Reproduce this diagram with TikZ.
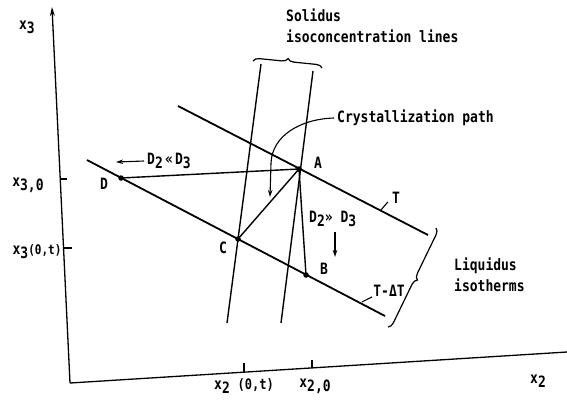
\documentclass[tikz,border=0pt]{standalone}
\usepackage{fontspec}
\setmainfont{DejaVu Sans Mono}
\usetikzlibrary{arrows.meta,decorations.pathreplacing}
\newcommand{\lowr}[1]{\raisebox{-0.45ex}{#1}}
\newcommand{\tall}[1]{\scalebox{1}[1.2]{#1}}
\begin{document}
\begin{tikzpicture}[x=1pt,y=-1pt,
  lbl/.style={font=\fontsize{13}{21}\selectfont\bfseries, inner sep=0pt},
  axisline/.style={line width=1.3pt},
  iso/.style={line width=1.8pt},
  sol/.style={line width=1.4pt},
  conn/.style={line width=1.4pt},
  thin/.style={line width=1.1pt},
  dot/.style={circle, fill=black, inner sep=0pt, minimum size=5.5pt},
  tip/.style={-{Stealth[length=7pt,width=4.5pt]}},
  brc/.style={line width=1.2pt, decorate, decoration={brace, amplitude=6pt}}]
\useasboundingbox (0,0) rectangle (567,408);
% axes
\coordinate (O) at (70,383);
\coordinate (Ytop) at (52,7);
\coordinate (Xend) at (567,352);
\draw[axisline, -{Stealth[length=9pt,width=5pt]}] (O) -- (Ytop);
\draw[axisline] (O) -- (Xend);
% ticks
\draw[axisline] (244,372) -- (244,363);
\draw[axisline] (312,368) -- (312,360);
\draw[axisline] (60,179) -- (67,179);
\draw[axisline] (63.5,248) -- (72,248);
% axis labels
\node[lbl] (lx3) at (27,27) {\tall{x\lowr{3}}};
\node[lbl] (lx30) at (28,185) {\tall{x\lowr{3,0}}};
\node[lbl] (lx30t) at (37,252) {\tall{x\lowr{3}{\fontsize{11}{12}\selectfont(0,t)}}};
\node[lbl] (lx2) at (538,381) {\tall{x\lowr{2}}};
\node[lbl] (lx20t) at (244,386) {\tall{x\lowr{2} {\fontsize{12}{12}\selectfont(0,t)}}};
\node[lbl] (lx20) at (315,386) {\tall{x\lowr{2,0}}};
% points
\node[dot] (A) at (299,169) {};
\node[dot] (B) at (306,275) {};
\node[dot] (C) at (238,239) {};
\node[dot] (D) at (121,178) {};
\node[lbl] (lA) at (318,163) {\tall{A}};
\node[lbl] (lB) at (324,269) {\tall{B}};
\node[lbl] (lC) at (223,248) {\tall{C}};
\node[lbl] (lD) at (104,184) {\tall{D}};
% liquidus isotherms
\coordinate (Ts) at (178,106);
\coordinate (Te) at (428,235);
\coordinate (Ls) at (87,160);
\coordinate (Le) at (385,316);
\draw[iso] (Ts) -- (Te);
\draw[iso] (Ls) -- (Le);
% solidus lines
\coordinate (S1t) at (261,64);
\coordinate (S1b) at (227,323);
\coordinate (S2t) at (313,71);
\coordinate (S2b) at (281,323);
\draw[sol] (S1t) -- (S1b);
\draw[sol] (S2t) -- (S2b);
% connectors
\draw[conn] (A.center) -- (D.center);
\draw[conn] (A.center) -- (C.center);
\draw[conn] (A.center) -- (B.center);
% T labels
\node[lbl] (lT) at (396,198) {\tall{T}};
\coordinate (Tl) at (381,210);
\draw[thin] (Tl) -- ([xshift=-4pt,yshift=2pt]lT.south west);
\node[lbl] (lTdT) at (389,291) {\tall{T-ΔT}};
\coordinate (TdTl) at (362,302);
\draw[thin] (TdTl) -- ([xshift=-1pt,yshift=0pt]lTdT.south west);
% D2 << D3
\node[lbl, anchor=west] (ll) at (147,161) {\tall{D\lowr{2}\,«\,D\lowr{3}}};
\coordinate (llend) at (116,162);
\draw[thin, tip] ([xshift=-3pt]ll.west) -- (llend);
% D2 >> D3
\node[lbl, anchor=west] (gg) at (309,219) {\tall{D\lowr{2}» D\lowr{3}}};
\coordinate (ggend) at (335,257);
\draw[thin, tip] (335,232) -- (ggend);
% solidus label and brace
\node[lbl, anchor=north west, align=left] (sl) at (286,9) {\tall{Solidus}\\\tall{isoconcentration lines}};
\coordinate (sbl) at (253,61);
\coordinate (sbr) at (322,68);
\draw[brc] (sbl) -- (sbr);
% crystallization path
\node[lbl, anchor=west, inner sep=3pt] (cp) at (334,118) {\tall{Crystallization path}};
\coordinate (cpend) at (270,197);
\draw[thin, tip] (cp.west) .. controls (300,119) and (272,136) .. (271,163) -- (cpend);
% liquidus label and brace
\node[lbl, anchor=north west, align=left] (li) at (454,258) {\tall{Liquidus}\\\tall{isotherms}};
\coordinate (lbt) at (436,228);
\coordinate (lbb) at (388,327);
\draw[brc] (lbt) -- (lbb);
\end{tikzpicture}
\end{document}
